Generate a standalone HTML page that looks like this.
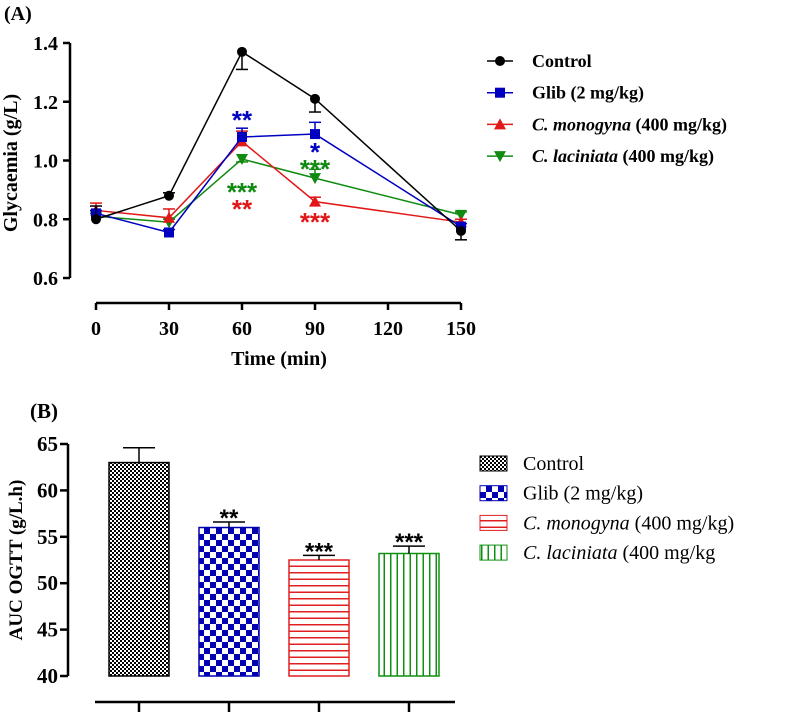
<!DOCTYPE html>
<html><head><meta charset="utf-8"><style>
body{margin:0;background:#fff;}
svg{display:block;font-family:"Liberation Serif",serif;}
</style></head><body>
<svg width="787" height="712" viewBox="0 0 787 712">
<defs>
<pattern id="pCtrl" width="4" height="4" patternUnits="userSpaceOnUse"><rect width="4" height="4" fill="#fff"/><rect width="2" height="2" fill="#000"/><rect x="2" y="2" width="2" height="2" fill="#000"/></pattern>
<pattern id="pGlib" width="12" height="12" patternUnits="userSpaceOnUse"><rect width="12" height="12" fill="#fff"/><rect width="6" height="6" fill="#0000b0"/><rect x="6" y="6" width="6" height="6" fill="#0000b0"/></pattern>
<pattern id="pMono" width="6" height="6.5" patternUnits="userSpaceOnUse"><rect width="6" height="6.5" fill="#fff"/><rect y="0" width="6" height="1.5" fill="#e02020"/></pattern>
<pattern id="pLac" width="6.5" height="6" patternUnits="userSpaceOnUse"><rect width="6.5" height="6" fill="#fff"/><rect x="0" width="1.5" height="6" fill="#109010"/></pattern>
</defs>
<text x="4" y="20" font-size="20" font-weight="bold">(A)</text>
<g id="chartA"></g>
<text x="30" y="418" font-size="21" font-weight="bold">(B)</text>
<g id="chartB"></g>
</svg>
<script>
const times=[0,30,60,90,150];
const xTicks=[0,30,60,90,120,150];
const yTicksA=[0.6,0.8,1.0,1.2,1.4];
const seriesNames=["Control","Glib (2 mg/kg)","C. monogyna","C. laciniata"];
const colors=["#000","#0000c0","#e01818","#108a10"];
const ctrlVals=[0.80,0.88,1.37,1.21,0.76];
const ctrlErr=[0.045,0.01,0.06,0.045,0.03];
const glibVals=[0.82,0.755,1.08,1.09,0.775];
const glibErr=[0.01,0.01,0.03,0.04,0.01];
const monoVals=[0.83,0.805,1.065,0.86,0.79];
const monoErr=[0.025,0.03,0.035,0.015,0.01];
const lacVals=[0.81,0.79,1.005,0.94,0.815];
const lacErr=[0.01,0.01,0.01,0.03,0.01];
const sigA=[[2,"**",1,1.151],[3,"*",1,1.043],[2,"***",3,0.906],[3,"***",3,0.984],[2,"**",2,0.849],[3,"***",2,0.804]];
const barCats=["Control","Glib (2 mg/kg)","C. monogyna","C. laciniata"];
const barVals=[63.0,56.0,52.5,53.2];
const barErr=[1.6,0.6,0.5,0.8];
const barSig=["","**","***","***"];
const yTicksB=[40,45,50,55,60,65];

const NS="http://www.w3.org/2000/svg";
function mk(parent,tag,attrs,text){const e=document.createElementNS(NS,tag);for(const k in attrs)e.setAttribute(k,attrs[k]);if(text!==undefined)e.textContent=text;parent.appendChild(e);return e;}

// Chart A
const A=document.getElementById('chartA');
const xA=t=>96+t*(365/150);
const yA=v=>278-(v-0.6)*(235/0.8);
let e=mk(A,'line',{x1:70,y1:yA(1.4),x2:70,y2:yA(0.6),stroke:'#000','stroke-width':2.5});

yTicksA.forEach(v=>{
 let t=mk(A,'line',{x1:63,x2:70,y1:yA(v),y2:yA(v),stroke:'#000','stroke-width':2.5});
 
 let l=mk(A,'text',{x:58,y:yA(v)+7,'font-size':20,'font-weight':'bold','text-anchor':'end'},v.toFixed(1));
 
});
e=mk(A,'line',{x1:xA(0),x2:xA(150),y1:303,y2:303,stroke:'#000','stroke-width':2.5});

xTicks.forEach(v=>{
 let t=mk(A,'line',{x1:xA(v),x2:xA(v),y1:303,y2:310,stroke:'#000','stroke-width':2.5});
 
 let l=mk(A,'text',{x:xA(v),y:335,'font-size':20,'font-weight':'bold','text-anchor':'middle'},String(v));
 
});
e=mk(A,'text',{x:279,y:365,'font-size':20,'font-weight':'bold','text-anchor':'middle'},'Time (min)');

e=mk(A,'text',{x:0,y:0,'font-size':20,'font-weight':'bold','text-anchor':'middle',transform:'translate(17,163) rotate(-90)'},'Glycaemia (g/L)');

const allVals=[ctrlVals,glibVals,monoVals,lacVals];
const allErr=[ctrlErr,glibErr,monoErr,lacErr];
function marker(g,k,x,y,c){
 if(k===0)return mk(g,'circle',{cx:x,cy:y,r:5,fill:c});
 if(k===1)return mk(g,'rect',{x:x-5,y:y-5,width:10,height:10,fill:c});
 if(k===2)return mk(g,'polygon',{points:`${x-6},${y+5} ${x+6},${y+5} ${x},${y-6}`,fill:c});
 return mk(g,'polygon',{points:`${x-6},${y-5} ${x+6},${y-5} ${x},${y+6}`,fill:c});
}
[3,2,1,0].forEach(k=>{
 const g=mk(A,'g',{});
 
 const vals=allVals[k],err=allErr[k],c=colors[k];
 let pl=mk(g,'polyline',{points:times.map((t,i)=>xA(t)+','+yA(vals[i])).join(' '),fill:'none',stroke:c,'stroke-width':1.5});
 
 times.forEach((t,i)=>{
  const x=xA(t),y=yA(vals[i]);
  const down=(k===0&&(i===2||i===3||i===4))||(k===3&&i===2);
  const y2=down?yA(vals[i]-err[i]):yA(vals[i]+err[i]);
  mk(g,'line',{x1:x,x2:x,y1:y,y2:y2,stroke:c,'stroke-width':1.5});
  mk(g,'line',{x1:x-6,x2:x+6,y1:y2,y2:y2,stroke:c,'stroke-width':1.5});
  let m=marker(g,k,x,y,c);
  
 });
});
sigA.forEach(s=>{
 let t=mk(A,'text',{x:xA(times[s[0]]),y:yA(s[3])+13,'font-size':26,'font-weight':'bold','text-anchor':'middle',fill:colors[s[2]],'font-family':'Liberation Sans, sans-serif'},s[1]);
 
});
seriesNames.forEach((n,k)=>{
 const y=61+k*31.7;
 const g=mk(A,'g',{});
 
 mk(g,'line',{x1:487,x2:513,y1:y,y2:y,stroke:colors[k],'stroke-width':1.5});
 marker(g,k,500,y,colors[k]);
 const t=mk(g,'text',{x:532,y:y+6,'font-size':18,'font-weight':'bold'});
 if(k<2){t.textContent=n;}else{mk(t,'tspan',{'font-style':'italic'},n);mk(t,'tspan',{},' (400 mg/kg)');}
});

// Chart B
const B=document.getElementById('chartB');
const yB=v=>676-(v-40)*(232/25);
const xB=i=>139+i*90;
e=mk(B,'line',{x1:68,x2:68,y1:yB(65),y2:yB(40),stroke:'#000','stroke-width':2.5});

yTicksB.forEach(v=>{
 let t=mk(B,'line',{x1:60,x2:68,y1:yB(v),y2:yB(v),stroke:'#000','stroke-width':2.5});
 
 let l=mk(B,'text',{x:58,y:yB(v)+7,'font-size':21,'font-weight':'bold','text-anchor':'end'},String(v));
 
});
e=mk(B,'line',{x1:95,x2:455,y1:702,y2:702,stroke:'#000','stroke-width':2.5});

e=mk(B,'text',{x:0,y:0,'font-size':19,'font-weight':'bold','text-anchor':'middle',transform:'translate(22,560) rotate(-90)'},'AUC OGTT (g/L.h)');

const fills=['url(#pCtrl)','url(#pGlib)','url(#pMono)','url(#pLac)'];
const strokes=['#000','#0000b0','#e02020','#109010'];
barVals.forEach((v,i)=>{
 const x=xB(i);
 let t=mk(B,'line',{x1:x,x2:x,y1:702,y2:712,stroke:'#000','stroke-width':2.5});
 
 let r=mk(B,'rect',{x:x-30,y:yB(v),width:60,height:yB(40)-yB(v),fill:fills[i],stroke:strokes[i],'stroke-width':1.5});
 
 const ye=yB(v+barErr[i]);
 mk(B,'line',{x1:x,x2:x,y1:yB(v),y2:ye,stroke:'#000','stroke-width':1.5});
 mk(B,'line',{x1:x-16,x2:x+16,y1:ye,y2:ye,stroke:'#000','stroke-width':1.5});
 if(barSig[i]){let s=mk(B,'text',{x:x,y:ye+4,'font-size':24,'font-weight':'bold','text-anchor':'middle','font-family':'Liberation Sans, sans-serif'},barSig[i]);
 }
});
barCats.forEach((n,i)=>{
 const y=463+i*29.7;
 const g=mk(B,'g',{});
 
 mk(g,'rect',{x:480,y:y-7,width:27,height:15,fill:fills[i],stroke:strokes[i],'stroke-width':1});
 const t=mk(g,'text',{x:523,y:y+7,'font-size':20});
 if(i<2)t.textContent=n;else{mk(t,'tspan',{'font-style':'italic'},n);mk(t,'tspan',{},i===2?' (400 mg/kg)':' (400 mg/kg');}
});
</script>
</body></html>
